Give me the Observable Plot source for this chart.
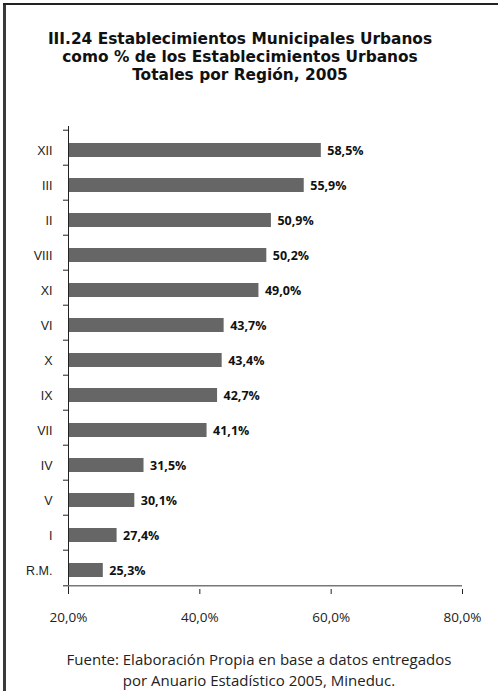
<!DOCTYPE html>
<html>
<head>
<meta charset="utf-8">
<script src="https://cdn.jsdelivr.net/npm/d3@7"></script>
<script src="https://cdn.jsdelivr.net/npm/@observablehq/plot@0.6"></script>
<style>
  html, body { margin: 0; padding: 0; background: #fff; }
  #wrap { position: relative; width: 498px; height: 691px; overflow: hidden; background: #fff; }
  #bl { position: absolute; left: 3px; top: 3px; width: 3px; bottom: 0; background: #3a3a3a; }
  #bt { position: absolute; left: 3px; top: 3px; right: 0; height: 2px; background: #222; }
  #title { position: absolute; left: 0; width: 480px; top: 30px; text-align: center;
           font-family: "DejaVu Sans", sans-serif; font-weight: bold; font-size: 15.4px; color: #111; }
  #title div { height: 18px; line-height: 18px; white-space: nowrap; }
  #chart { position: absolute; left: 0; top: 100px; }
  #foot { position: absolute; left: 16px; width: 486px; top: 649px; text-align: center;
          font-family: "Open Sans", sans-serif; font-size: 15px; color: #222; }
  #foot div { height: 21px; line-height: 21px; white-space: nowrap; }
</style>
</head>
<body>
<div id="wrap">
  <div id="bl"></div>
  <div id="bt"></div>
  <div id="title"><div>III.24 Establecimientos Municipales Urbanos</div><div>como % de los Establecimientos Urbanos</div><div>Totales por Región, 2005</div></div>
  <div id="chart"></div>
  <div id="foot"><div>Fuente: Elaboración Propia en base a datos entregados</div><div>por Anuario Estadístico 2005, Mineduc.</div></div>
</div>
<script>
const regions = ["XII","III","II","VIII","XI","VI","X","IX","VII","IV","V","I","R.M."];
const values = [58.5,55.9,50.9,50.2,49.0,43.7,43.4,42.7,41.1,31.5,30.1,27.4,25.3];
const xTicks = [20,40,60,80];

const data = regions.map((r, i) => ({region: r, value: values[i]}));
const fmt = v => v.toFixed(1).replace(".", ",") + "%";

const W = 498, H = 540, mT = 26, mB = 51, mL = 68, mR = 36;
const step = (H - mT - mB) / regions.length;
const font = "Open Sans, sans-serif";

const chart = Plot.plot({
  width: W, height: H,
  marginTop: mT, marginBottom: mB, marginLeft: mL, marginRight: mR,
  x: {domain: [xTicks[0], xTicks[xTicks.length - 1]], axis: null, label: null},
  y: {domain: regions, padding: 0, axis: null, label: null},
  style: {background: "transparent", overflow: "visible"},
  marks: [
    Plot.barX(data, {x1: xTicks[0], x2: "value", y: "region", fill: "#666666", insetTop: 13, insetBottom: 8}),
    Plot.ruleX([xTicks[0]], {stroke: "#222"}),
    Plot.ruleY([regions[regions.length - 1]], {dy: step / 2, stroke: "#777", strokeWidth: 1.5}),
    Plot.axisY({tickSize: 5, dy: -step / 2, text: null, label: null, stroke: "#222"}),
    Plot.axisY({ticks: [regions[regions.length - 1]], tickSize: 5, dy: step / 2, text: null, label: null, stroke: "#222"}),
    Plot.axisY({tickSize: 0, tickPadding: 16, dy: 2.5, label: null, fontSize: 12.5, fontFamily: "Liberation Sans, Arial, sans-serif", fill: "#222"}),
    Plot.axisX({ticks: xTicks, tickSize: 5, tickPadding: 18, tickFormat: fmt, label: null, fontSize: 13.5, fontFamily: font, fill: "#222", stroke: "#222"}),
    Plot.text(data, {x: "value", y: "region", text: d => fmt(d.value), dx: 6, dy: 2.5, textAnchor: "start",
                     fontWeight: "bold", fontSize: 12.5, fontFamily: font, fill: "#111"})
  ]
});
document.getElementById("chart").appendChild(chart);
</script>
</body>
</html>
